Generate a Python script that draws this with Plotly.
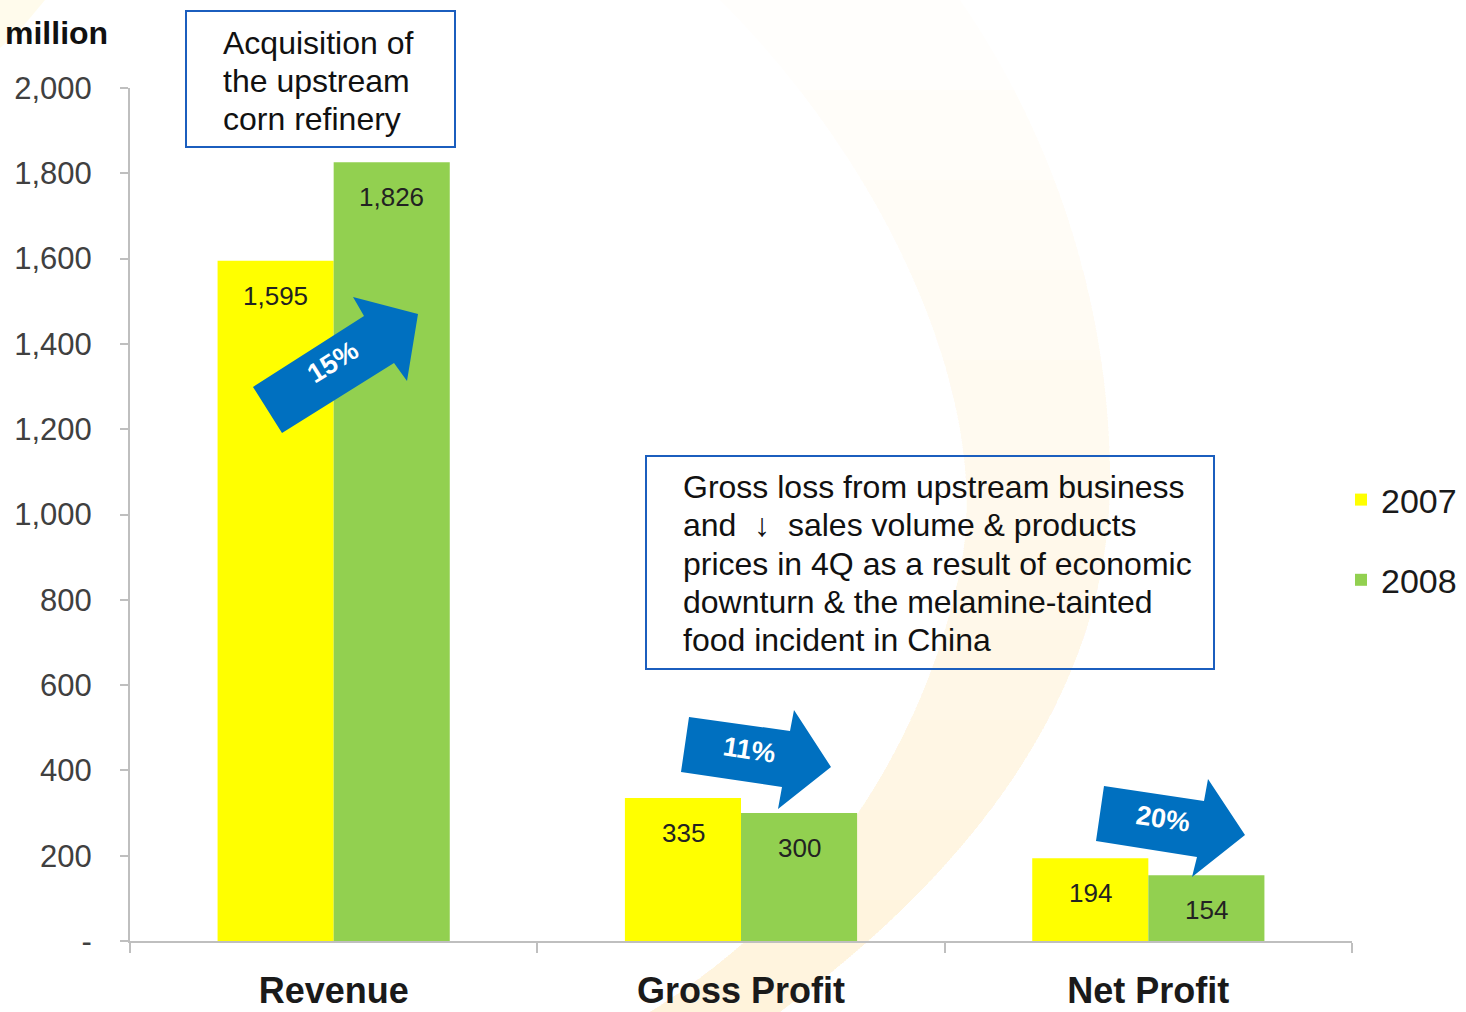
import numpy as np
import plotly.graph_objects as go

categories = ["Revenue", "Gross Profit", "Net Profit"]
years = ["2007", "2008"]
values_2007 = [1595, 335, 194]
values_2008 = [1826, 300, 154]
tick_vals = [0, 200, 400, 600, 800, 1000, 1200, 1400, 1600, 1800, 2000]
tick_text = ["-", "200", "400", "600", "800", "1,000", "1,200", "1,400", "1,600", "1,800", "2,000"]
changes = ["15%", "11%", "20%"]
note_1 = ["Acquisition of", "the upstream", "corn refinery"]
note_2 = ["Gross loss from upstream business", "and&nbsp; ↓ &nbsp;sales volume &amp; products",
          "prices in 4Q as a result of economic", "downturn &amp; the melamine-tainted",
          "food incident in China"]

W, H = 1466, 1012
ML, MR, MT, MB = 130, 114, 88, 71
PW = W - ML - MR
PH = H - MT - MB


def px(x, y):
    return (x - ML) / PW, (H - MB - y) / PH


def fmt(x, y):
    a, b = px(x, y)
    return f"{a:.5f},{b:.5f}"


def path_from(points):
    parts = []
    for i, (x, y) in enumerate(points):
        parts.append(("M" if i == 0 else "L") + fmt(x, y))
    return " ".join(parts) + " Z"


def bezier(p0, p1, p2, p3, n=40):
    t = np.linspace(0, 1, n)[:, None]
    p0, p1, p2, p3 = map(np.array, (p0, p1, p2, p3))
    return (1 - t) ** 3 * p0 + 3 * (1 - t) ** 2 * t * p1 + 3 * (1 - t) * t ** 2 * p2 + t ** 3 * p3


FONT = "Liberation Sans, Arial, sans-serif"
BLUE = "#0070C0"
BOX = "#1B5EBE"
AXIS = "#BFBFBF"

fig = go.Figure()
fig.add_trace(go.Bar(name=years[0], x=categories, y=values_2007, marker=dict(color="#FFFF00", line=dict(width=0)),
                     legendgroup="a", hoverinfo="skip"))
fig.add_trace(go.Bar(name=years[1], x=categories, y=values_2008, marker=dict(color="#92D050", line=dict(width=0)),
                     legendgroup="b", hoverinfo="skip"))

shapes = []
# faint background crescent, fading in towards the bottom (stacked translucent layers)
inner = np.vstack([bezier((720, 0), (890, 170), (990, 400), (962, 560)),
                   bezier((962, 560), (930, 730), (830, 900), (650, 1012))])
outer = np.vstack([bezier((960, 0), (1050, 130), (1110, 300), (1110, 480)),
                   bezier((1110, 480), (1110, 700), (960, 880), (780, 1012))])
ys = np.linspace(0, 1012, 120)
xin = np.interp(ys, inner[:, 1], inner[:, 0])
xout = np.interp(ys, outer[:, 1], outer[:, 0])
for y_start in range(0, 1000, 90):
    m = ys >= y_start
    pts = [(np.interp(y_start, ys, xin), y_start)] + list(zip(xin[m], ys[m])) \
        + list(zip(xout[m][::-1], ys[m][::-1])) + [(np.interp(y_start, ys, xout), y_start)]
    shapes.append(dict(type="path", xref="paper", yref="paper", path=path_from(pts),
                       fillcolor="rgba(255,212,70,0.017)", line=dict(width=0), layer="below"))
shapes.append(dict(type="path", xref="paper", yref="paper",
                   path=path_from([(0, 0), (45, 0), (20, 30), (0, 48)]),
                   fillcolor="rgba(255,212,70,0.10)", line=dict(width=0), layer="below"))

# annotation boxes
for (x0, y0, x1, y1) in [(186, 11, 455, 147), (646, 456, 1214, 669)]:
    a, b = px(x0, y1)
    c, d = px(x1, y0)
    shapes.append(dict(type="rect", xref="paper", yref="paper", x0=a, y0=b, x1=c, y1=d,
                       line=dict(color=BOX, width=2), fillcolor="rgba(0,0,0,0)", layer="above"))

# block arrows
arrows = [
    [(253, 387), (364, 316), (353, 297), (418, 314), (407, 381), (394, 363), (282, 433)],
    [(689, 717), (790, 731), (794, 710), (831, 767), (778, 809), (782, 787), (681, 772)],
    [(1104, 786), (1204, 801), (1208, 779), (1245, 835), (1192, 877), (1197, 857), (1096, 841)],
]
for pts in arrows:
    shapes.append(dict(type="path", xref="paper", yref="paper", path=path_from(pts),
                       fillcolor=BLUE, line=dict(width=0), layer="above"))

annotations = []
# data labels
for vals, shift in [(values_2007, -58), (values_2008, 58)]:
    for cat, v in zip(categories, vals):
        annotations.append(dict(x=cat, y=v, xref="x", yref="y", text=f"{v:,}", showarrow=False,
                                xshift=shift, yshift=-35, font=dict(family=FONT, size=26, color="#222222")))

# arrow texts
arrow_text_pos = [((333, 362), -32), ((749, 750), 8.6), ((1163, 819), 8.6)]
for txt, ((x, y), ang) in zip(changes, arrow_text_pos):
    xp, yp = px(x, y)
    annotations.append(dict(x=xp, y=yp, xref="paper", yref="paper", text=f"<b>{txt}</b>", showarrow=False,
                            textangle=ang, font=dict(family=FONT, size=27, color="white"),
                            xanchor="center", yanchor="middle"))

# unit label
xp, yp = px(3, 33)
annotations.append(dict(x=xp, y=yp, xref="paper", yref="paper", text="<b>million</b>", showarrow=False,
                        xanchor="left", yanchor="middle", font=dict(family=FONT, size=32, color="#111111")))

# box texts, one line each
for lines, x0, y_first, step in [(note_1, 221, 43, 38), (note_2, 681, 487, 38.3)]:
    for i, line in enumerate(lines):
        xp, yp = px(x0, y_first + i * step)
        annotations.append(dict(x=xp, y=yp, xref="paper", yref="paper", text=line, showarrow=False,
                                xanchor="left", yanchor="middle", align="left",
                                font=dict(family=FONT, size=32, color="#111111")))

lx, ly = px(1341, 540)
fig.update_layout(
    width=W, height=H,
    margin=dict(l=ML, r=MR, t=MT, b=MB, autoexpand=False),
    paper_bgcolor="white", plot_bgcolor="rgba(0,0,0,0)",
    barmode="group", bargap=0.43, bargroupgap=0,
    showlegend=True,
    legend=dict(x=lx, y=ly, xanchor="left", yanchor="middle", traceorder="grouped", tracegroupgap=33,
                font=dict(family=FONT, size=34, color="#1a1a1a"), bgcolor="rgba(0,0,0,0)"),
    font=dict(family=FONT),
    shapes=shapes,
    annotations=annotations,
    xaxis=dict(showline=True, linecolor=AXIS, linewidth=2, ticks="outside", ticklen=10, tickcolor=AXIS,
               tickwidth=2, tickson="boundaries", showgrid=False, automargin=False,
               tickfont=dict(family=FONT, size=36, color="#1a1a1a"), ticklabelstandoff=17,
               ticktext=[f"<b>{c}</b>" for c in categories], tickvals=categories),
    yaxis=dict(range=[0, 2000], showline=True, linecolor=AXIS, linewidth=2, ticks="outside", ticklen=8,
               tickcolor=AXIS, tickwidth=2, showgrid=False, zeroline=False, automargin=False,
               tickvals=tick_vals, ticktext=tick_text, ticklabelstandoff=22,
               tickfont=dict(family=FONT, size=31, color="#404040")),
)

fig.write_html("out.html", config={"displayModeBar": False},
               post_script="document.body.style.margin='0px';document.body.style.overflow='hidden';")
